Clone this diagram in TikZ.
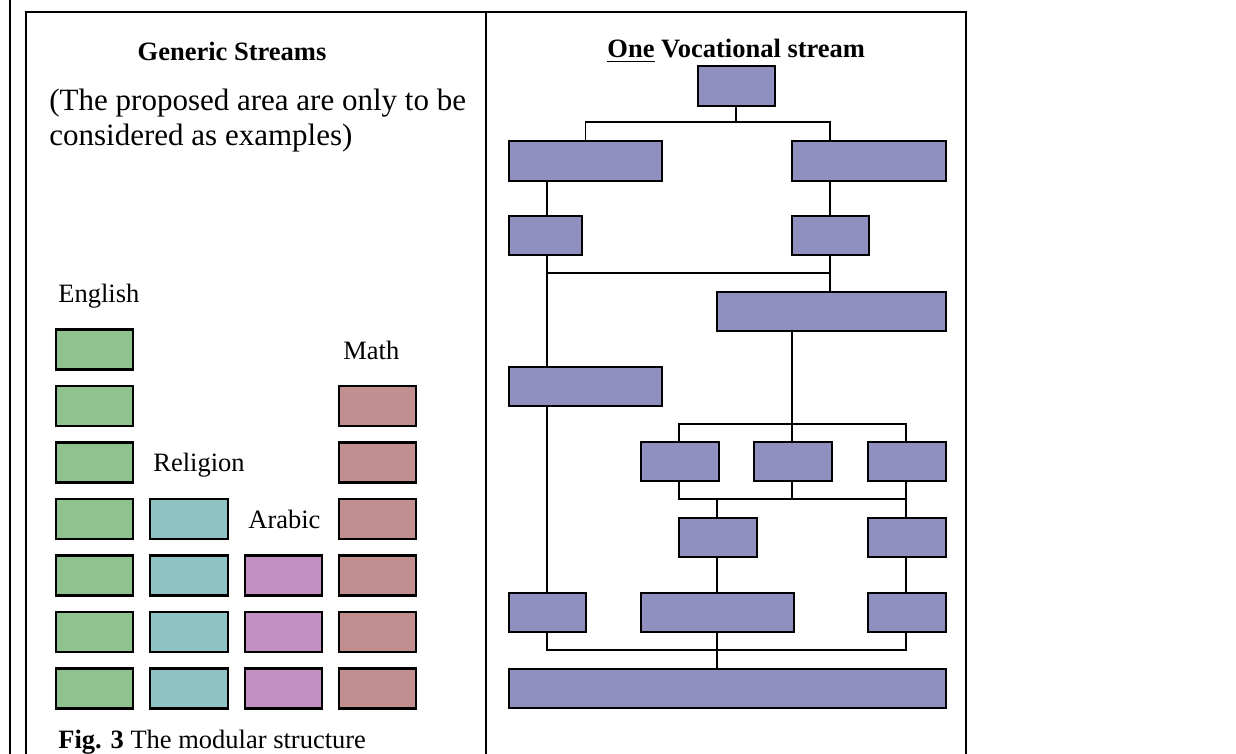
\documentclass[tikz,border=0pt]{standalone}
\usepackage{fontspec}
\setmainfont{Liberation Serif}
\definecolor{modgreen}{RGB}{143,194,143}
\definecolor{modteal}{RGB}{143,194,194}
\definecolor{modpurple}{RGB}{193,143,193}
\definecolor{modrose}{RGB}{193,143,143}
\definecolor{modblue}{RGB}{143,143,192}
% block given by its corners (x1,y1) and (x2,y2), in half-points
\newcommand\blk[6]{%
  \node[#2, minimum width={((#5)-(#3))*0.5pt}, minimum height={((#6)-(#4))*0.5pt}]
    (#1) at ({((#3)+(#5))/2},{((#4)+(#6))/2}) {};}
\begin{document}
\begin{tikzpicture}[x=0.5pt,y=-0.5pt,
  frame/.style={line width=1pt},
  conn/.style={line width=0.7pt},
  mod/.style={draw, line width=1.1pt, inner sep=0pt, outer sep=0pt},
  green/.style={mod, fill=modgreen},
  teal/.style={mod, fill=modteal},
  purple/.style={mod, fill=modpurple},
  rose/.style={mod, fill=modrose},
  blue/.style={mod, fill=modblue},
  lbl/.style={inner sep=0pt, font=\fontsize{13.25}{16}\selectfont},
  para/.style={inner sep=0pt, font=\fontsize{15.5}{18}\selectfont}]
\useasboundingbox (0,0) rectangle (1236,754);
\clip (0,0) rectangle (1236,754);

% table rules
\draw[frame] (10,0) -- (10,760);
\draw[frame] (26,760) -- (26,12) -- (965.5,12) -- (965.5,760);
\draw[frame] (485.5,12) -- (485.5,760);

% ---- left column: generic streams ----
\node[lbl, anchor=base] (gtitle) at (232,61) {\bfseries Generic Streams};
\node[para, anchor=base west] (note1) at (49,111) {(The proposed area are only to be};
\node[para, anchor=base west] (note2) at (49,146) {considered as examples)};
\node[lbl, anchor=base west] (eng) at (58,302) {English};
\node[lbl, anchor=base west] (math) at (343,359) {Math};
\node[lbl, anchor=base west] (rel) at (153,471) {Religion};
\node[lbl, anchor=base west] (arab) at (248,528) {Arabic};
\node[lbl, anchor=base west] (cap) at (58,748) {\textbf{Fig. 3} The modular structure};

\foreach \i in {1,...,7}{%
  \pgfmathsetmacro\yt{329.5+56.5*(\i-1)}%
  \pgfmathsetmacro\yb{\yt+40}%
  \blk{g\i}{green}{56}{\yt}{133}{\yb}
  \ifnum\i>3 \blk{t\i}{teal}{150}{\yt}{228}{\yb}\fi
  \ifnum\i>4 \blk{p\i}{purple}{245}{\yt}{322}{\yb}\fi
  \ifnum\i>1 \blk{r\i}{rose}{339}{\yt}{416}{\yb}\fi
}

% ---- right column: vocational stream ----
\node[lbl, anchor=base west] (vtitle) at (607,58) {\bfseries\underline{One} Vocational stream};

\blk{v0}{blue}{698}{66}{775}{106}
\blk{v1}{blue}{509}{141}{662}{181}
\blk{v2}{blue}{792}{141}{946}{181}
\blk{v3}{blue}{509}{216}{582}{255}
\blk{v4}{blue}{792}{216}{869}{255}
\blk{v5}{blue}{717}{292}{946}{331}
\blk{v6}{blue}{509}{367}{662}{406}
\blk{v7}{blue}{641}{442}{719}{481}
\blk{v8}{blue}{754}{442}{832}{481}
\blk{v9}{blue}{868}{442}{946}{481}
\blk{v10}{blue}{679}{518}{757}{557}
\blk{v11}{blue}{868}{518}{946}{557}
\blk{v12}{blue}{509}{593}{586}{632}
\blk{v13}{blue}{641}{593}{794}{632}
\blk{v14}{blue}{868}{593}{946}{632}
\blk{v15}{blue}{509}{669}{946}{708}

% vertical tracks and bus levels
\coordinate (x0) at (736,0);
\coordinate (xA) at (547,0);
\coordinate (xB) at (830,0);
\coordinate (xC) at (792,0);
\coordinate (xD) at (679,0);
\coordinate (xE) at (906,0);
\coordinate (xF) at (717,0);
\coordinate (y1) at (0,122);
\coordinate (y2) at (0,273);
\coordinate (y3) at (0,424);
\coordinate (y4) at (0,499);
\coordinate (y5) at (0,650);

\draw[conn] (v0.south -| x0) -- (x0 |- y1);
\draw[conn] (v1.north) |- (xB |- y1) -- (v2.north -| xB);
\draw[conn] (v1.south -| xA) -- (v3.north -| xA);
\draw[conn] (v2.south -| xB) -- (v4.north -| xB);
\draw[conn] (v3.south -| xA) -- (v6.north -| xA);
\draw[conn] (v4.south -| xB) -- (v5.north -| xB);
\draw[conn] (xA |- y2) -- (xB |- y2);
\draw[conn] (v5.south -| xC) -- (v8.north -| xC);
\draw[conn] (v7.north -| xD) |- (xE |- y3) -- (v9.north -| xE);
\draw[conn] (v6.south -| xA) -- (v12.north -| xA);
\draw[conn] (v7.south -| xD) |- (xE |- y4) -- (v9.south -| xE);
\draw[conn] (v8.south -| xC) -- (xC |- y4);
\draw[conn] (xF |- y4) -- (v10.north -| xF);
\draw[conn] (xE |- y4) -- (v11.north -| xE);
\draw[conn] (v10.south -| xF) -- (v13.north -| xF);
\draw[conn] (v11.south -| xE) -- (v14.north -| xE);
\draw[conn] (v12.south -| xA) |- (xE |- y5) -- (v14.south -| xE);
\draw[conn] (v13.south -| xF) -- (v15.north -| xF);
\end{tikzpicture}
\end{document}
